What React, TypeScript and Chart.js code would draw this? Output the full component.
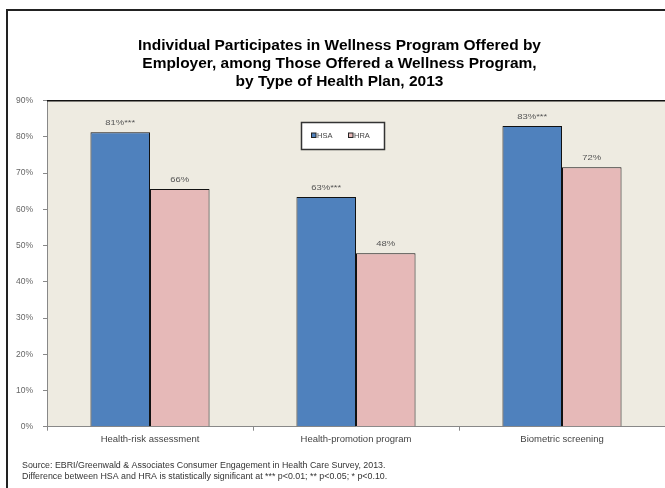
import React, { useEffect, useRef } from "react";
import { Chart, registerables } from "chart.js";

Chart.register(...registerables);

const categories = ["Health-risk assessment", "Health-promotion program", "Biometric screening"];
const seriesNames = ["HSA", "HRA"];
const hsaValues = [81.3, 63.4, 83.0];
const hraValues = [65.6, 47.9, 71.6];
const hsaLabels = ["81%***", "63%***", "83%***"];
const hraLabels = ["66%", "48%", "72%"];
const yMin = 0;
const yMax = 90;
const yStep = 10;
const titleLines = [
  "Individual Participates in Wellness Program Offered by",
  "Employer, among Those Offered a Wellness Program,",
  "by Type of Health Plan, 2013",
];
const footnotes = [
  "Source: EBRI/Greenwald & Associates Consumer Engagement in Health Care Survey, 2013.",
  "Difference between HSA and HRA is statistically significant at *** p<0.01; ** p<0.05; * p<0.10.",
];

const HSA_COLOR = "#4F81BD";
const HRA_COLOR = "#E6B9B8";
const PLOT_BG = "#EEEBE1";
const FONT = "Arial, 'Liberation Sans', sans-serif";

function drawStretched(ctx: CanvasRenderingContext2D, text: string, x: number, y: number, font: string, sx: number, align: CanvasTextAlign) {
  ctx.save();
  ctx.translate(x, y);
  ctx.scale(sx, 1);
  ctx.font = font;
  ctx.textAlign = align;
  ctx.textBaseline = "middle";
  ctx.fillText(text, 0, 0);
  ctx.restore();
}

const decorPlugin = {
  id: "decor",
  beforeDraw(chart: any) {
    const { ctx, chartArea } = chart;
    ctx.save();
    ctx.fillStyle = "#ffffff";
    ctx.fillRect(0, 0, chart.width, chart.height);
    ctx.fillStyle = PLOT_BG;
    ctx.fillRect(chartArea.left, chartArea.top, chartArea.right - chartArea.left, chartArea.bottom - chartArea.top);
    ctx.restore();
  },
  afterDatasetsDraw(chart: any) {
    const { ctx } = chart;
    ctx.save();
    ctx.fillStyle = "#555";
    const labelSets = [hsaLabels, hraLabels];
    labelSets.forEach((labels, di) => {
      const meta = chart.getDatasetMeta(di);
      meta.data.forEach((bar: any, i: number) => {
        drawStretched(ctx, labels[i], bar.x, bar.y - 9.5, `8px ${FONT}`, 1.18, "center");
      });
    });
    ctx.restore();
  },
  afterDraw(chart: any) {
    const { ctx, chartArea } = chart;
    ctx.save();
    // top plot border
    ctx.strokeStyle = "#111";
    ctx.lineWidth = 1.5;
    ctx.beginPath();
    ctx.moveTo(chartArea.left, chartArea.top);
    ctx.lineTo(chartArea.right, chartArea.top);
    ctx.stroke();

    // outer border
    ctx.strokeStyle = "#222";
    ctx.lineWidth = 2;
    ctx.strokeRect(7, 10, 720, 600);

    // title
    ctx.fillStyle = "#000";
    const tys = [46.5, 64.5, 82.5];
    titleLines.forEach((t, i) => drawStretched(ctx, t, 339.5, tys[i], `bold 14px ${FONT}`, 1.105, "center"));

    // footnotes
    ctx.fillStyle = "#333";
    const fys = [466, 477];
    footnotes.forEach((t, i) => drawStretched(ctx, t, 22, fys[i], `8.5px ${FONT}`, 1.04, "left"));

    // legend
    ctx.fillStyle = "#fff";
    ctx.fillRect(301.5, 122.5, 83, 27);
    ctx.strokeStyle = "#333";
    ctx.lineWidth = 1.5;
    ctx.strokeRect(301.5, 122.5, 83, 27);
    const items = [
      { x: 311.5, color: HSA_COLOR, name: seriesNames[0] },
      { x: 348.5, color: HRA_COLOR, name: seriesNames[1] },
    ];
    items.forEach((it) => {
      ctx.fillStyle = it.color;
      ctx.fillRect(it.x, 133, 4.5, 4.5);
      ctx.strokeStyle = "#222";
      ctx.lineWidth = 1;
      ctx.strokeRect(it.x, 133, 4.5, 4.5);
      ctx.fillStyle = "#444";
      drawStretched(ctx, it.name, it.x + 5.5, 135.5, `7.5px ${FONT}`, 1.0, "left");
    });
    ctx.restore();
  },
};

export default function App() {
  const canvasRef = useRef<HTMLCanvasElement | null>(null);

  useEffect(() => {
    if (!canvasRef.current) return;
    const chart = new Chart(canvasRef.current, {
      type: "bar",
      data: {
        labels: categories,
        datasets: [
          {
            label: seriesNames[0],
            data: hsaValues,
            backgroundColor: HSA_COLOR,
            borderColor: "#111",
            borderWidth: 1,
          },
          {
            label: seriesNames[1],
            data: hraValues,
            backgroundColor: HRA_COLOR,
            borderColor: "#111",
            borderWidth: 1,
          },
        ],
      },
      options: {
        animation: false,
        responsive: false,
        devicePixelRatio: 1,
        layout: { padding: { left: 0, right: 0, top: 100.7, bottom: 41.3 } },
        plugins: {
          legend: { display: false },
          title: { display: false },
          tooltip: { enabled: false },
        },
        datasets: {
          bar: { categoryPercentage: 0.578, barPercentage: 1.0 },
        },
        scales: {
          x: {
            grid: { drawOnChartArea: false, drawTicks: true, tickLength: 4, color: "#888", offset: true },
            border: { display: true, color: "#888", width: 1 },
            ticks: { font: { family: FONT, size: 9.5 }, color: "#444", padding: 3, maxRotation: 0 },
            afterFit(scale: any) {
              scale.height = 20;
            },
          },
          y: {
            min: yMin,
            max: yMax,
            grid: { drawOnChartArea: false, drawTicks: true, tickLength: 4, color: "#888" },
            border: { display: true, color: "#888", width: 1 },
            ticks: {
              stepSize: yStep,
              font: { family: FONT, size: 8.5 },
              color: "#666",
              padding: 10,
              callback: (v: any) => `${v}%`,
            },
            afterFit(scale: any) {
              scale.width = 47;
            },
          },
        },
      },
      plugins: [decorPlugin],
    });
    return () => chart.destroy();
  }, []);

  return (
    <div style={{ position: "fixed", left: 0, top: 0, width: 665, height: 488 }}>
      <canvas ref={canvasRef} width={665} height={488} style={{ display: "block" }} />
    </div>
  );
}
